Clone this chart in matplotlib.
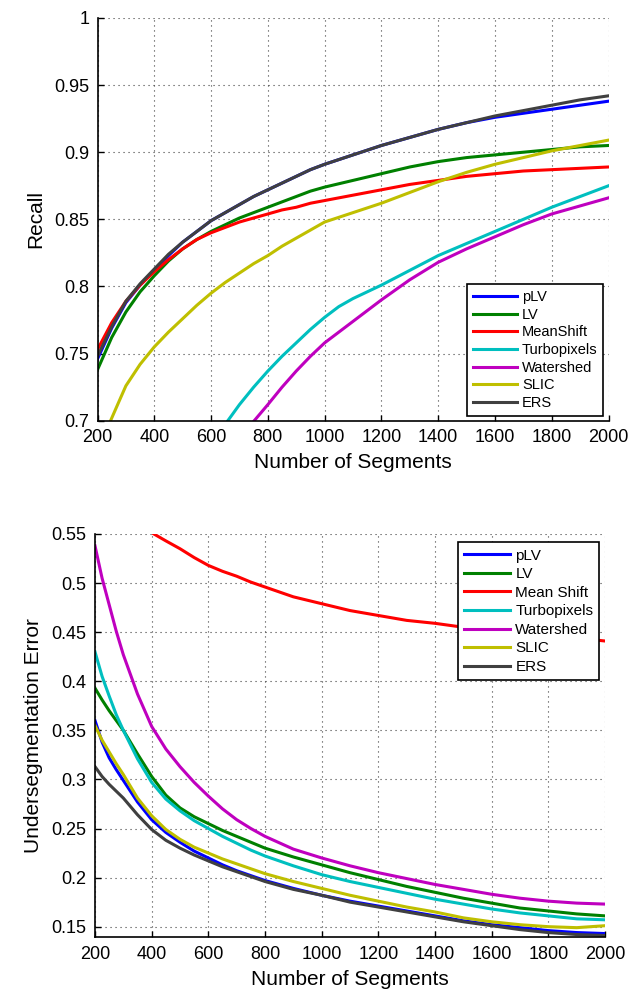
import matplotlib
matplotlib.use('Agg')
import matplotlib.pyplot as plt

plt.rcParams['font.family'] = ['Liberation Sans', 'DejaVu Sans']

# ---- recall vs number of segments (top) ----
rec_x = [200, 250, 300, 350, 400, 450, 500, 550, 600, 650, 700, 750, 800, 850, 900, 950,
         1000, 1100, 1200, 1300, 1400, 1500, 1600, 1700, 1800, 1900, 2000]
rec_plv = [0.746, 0.769, 0.788, 0.801, 0.812, 0.823, 0.833, 0.841, 0.849, 0.855, 0.861, 0.867, 0.872,
           0.877, 0.882, 0.887, 0.891, 0.898, 0.905, 0.911, 0.917, 0.922, 0.926, 0.929, 0.932, 0.935, 0.938]
rec_lv = [0.738, 0.762, 0.781, 0.796, 0.808, 0.819, 0.828, 0.835, 0.841, 0.846, 0.851, 0.855, 0.859,
          0.863, 0.867, 0.871, 0.874, 0.879, 0.884, 0.889, 0.893, 0.896, 0.898, 0.900, 0.902, 0.904, 0.905]
rec_ms = [0.753, 0.773, 0.789, 0.801, 0.811, 0.820, 0.828, 0.835, 0.840, 0.844, 0.848, 0.851, 0.854,
          0.857, 0.859, 0.862, 0.864, 0.868, 0.872, 0.876, 0.879, 0.882, 0.884, 0.886, 0.887, 0.888, 0.889]
rec_ers = [0.748, 0.770, 0.789, 0.802, 0.813, 0.824, 0.833, 0.841, 0.849, 0.855, 0.861, 0.867, 0.872,
           0.877, 0.882, 0.887, 0.891, 0.898, 0.905, 0.911, 0.917, 0.922, 0.927, 0.931, 0.935, 0.939, 0.942]

rec_slic_x = [246, 275, 300, 350, 400, 450, 500, 550, 600, 650, 700, 750, 800, 850, 900, 950, 1000,
              1100, 1200, 1300, 1400, 1500, 1600, 1700, 1800, 1900, 2000]
rec_slic = [0.700, 0.714, 0.726, 0.742, 0.755, 0.766, 0.776, 0.786, 0.795, 0.803, 0.810, 0.817, 0.823,
            0.830, 0.836, 0.842, 0.848, 0.855, 0.862, 0.870, 0.878, 0.885, 0.891, 0.896, 0.901, 0.905, 0.909]

rec_turbo_x = [659, 700, 750, 800, 850, 900, 950, 1000, 1050, 1100, 1200, 1300, 1400, 1500,
               1600, 1700, 1800, 1900, 2000]
rec_turbo = [0.700, 0.712, 0.725, 0.737, 0.748, 0.758, 0.768, 0.777, 0.785, 0.791, 0.801, 0.812,
             0.823, 0.832, 0.841, 0.850, 0.859, 0.867, 0.875]

rec_ws_x = [752, 800, 850, 900, 950, 1000, 1050, 1100, 1200, 1300, 1400, 1500, 1600, 1700,
            1800, 1900, 2000]
rec_ws = [0.700, 0.712, 0.725, 0.737, 0.748, 0.758, 0.766, 0.774, 0.790, 0.805, 0.818, 0.828,
          0.837, 0.846, 0.854, 0.860, 0.866]

# ---- undersegmentation error vs number of segments (bottom) ----
ue_x = [200, 225, 250, 275, 300, 350, 400, 450, 500, 550, 600, 650, 700, 750, 800, 900,
        1000, 1100, 1200, 1300, 1400, 1500, 1600, 1700, 1800, 1900, 2000]
ue_plv = [0.360, 0.338, 0.322, 0.310, 0.299, 0.277, 0.259, 0.246, 0.236, 0.227, 0.220, 0.213, 0.207,
          0.202, 0.197, 0.189, 0.182, 0.176, 0.171, 0.166, 0.161, 0.156, 0.152, 0.149, 0.146, 0.144, 0.143]
ue_lv = [0.393, 0.381, 0.370, 0.360, 0.350, 0.326, 0.303, 0.284, 0.271, 0.262, 0.255, 0.248, 0.242,
         0.236, 0.230, 0.221, 0.213, 0.205, 0.198, 0.191, 0.185, 0.179, 0.174, 0.169, 0.166, 0.163, 0.161]
ue_turbo = [0.430, 0.405, 0.385, 0.366, 0.350, 0.321, 0.297, 0.280, 0.268, 0.258, 0.250, 0.242, 0.235,
            0.228, 0.222, 0.212, 0.203, 0.196, 0.190, 0.184, 0.178, 0.173, 0.168, 0.164, 0.161, 0.158, 0.157]
ue_ws = [0.538, 0.505, 0.478, 0.451, 0.427, 0.387, 0.354, 0.331, 0.313, 0.297, 0.283, 0.270, 0.259,
         0.250, 0.242, 0.229, 0.220, 0.212, 0.205, 0.199, 0.193, 0.188, 0.183, 0.179, 0.176, 0.174, 0.173]
ue_slic = [0.355, 0.340, 0.328, 0.316, 0.305, 0.281, 0.263, 0.249, 0.239, 0.231, 0.225, 0.219, 0.214,
           0.209, 0.204, 0.196, 0.189, 0.182, 0.176, 0.170, 0.165, 0.159, 0.155, 0.152, 0.150, 0.149, 0.151]
ue_ers = [0.313, 0.303, 0.295, 0.288, 0.281, 0.264, 0.249, 0.238, 0.230, 0.223, 0.217, 0.211, 0.206,
          0.201, 0.196, 0.188, 0.182, 0.175, 0.170, 0.165, 0.160, 0.155, 0.151, 0.147, 0.144, 0.142, 0.141]

ue_ms_x = [408, 450, 500, 550, 600, 650, 700, 750, 800, 900, 1000, 1100, 1200, 1300, 1400,
           1500, 1600, 1700, 1800, 1900, 2000]
ue_ms = [0.550, 0.543, 0.535, 0.526, 0.518, 0.512, 0.507, 0.501, 0.496, 0.486, 0.479, 0.472, 0.467,
         0.462, 0.459, 0.455, 0.452, 0.449, 0.447, 0.444, 0.441]

names_top = ['pLV', 'LV', 'MeanShift', 'Turbopixels', 'Watershed', 'SLIC', 'ERS']
names_bottom = ['pLV', 'LV', 'Mean Shift', 'Turbopixels', 'Watershed', 'SLIC', 'ERS']
colors = ['#0000ff', '#008000', '#ff0000', '#00bfbf', '#bf00bf', '#bfbf00', '#404040']
xticks = [200, 400, 600, 800, 1000, 1200, 1400, 1600, 1800, 2000]


def style_axes(ax):
    ax.set_xlim(200, 2000)
    ax.set_xticks(xticks)
    ax.grid(True, color='0.25', linestyle=(0, (1, 3.5)), linewidth=0.8)
    ax.spines['top'].set_visible(False)
    ax.spines['right'].set_visible(False)
    ax.spines['left'].set_linewidth(1.2)
    ax.spines['bottom'].set_linewidth(1.2)
    ax.tick_params(direction='in', length=4, width=1, labelsize=13, pad=6)
    ax.set_xlabel('Number of Segments', fontsize=15, labelpad=5)


fig = plt.figure(figsize=(6.44, 9.97), dpi=100)

ax1 = fig.add_axes([0.1514, 0.578, 0.7935, 0.404])
top_series = [(rec_x, rec_plv), (rec_x, rec_lv), (rec_x, rec_ms),
              (rec_turbo_x, rec_turbo), (rec_ws_x, rec_ws),
              (rec_slic_x, rec_slic), (rec_x, rec_ers)]
for (xs, ys), name, c in zip(top_series, names_top, colors):
    ax1.plot(xs, ys, color=c, linewidth=2.2, label=name)
ax1.set_ylim(0.7, 1.0)
ax1.set_yticks([0.7, 0.75, 0.8, 0.85, 0.9, 0.95, 1.0])
ax1.set_yticklabels(['0.7', '0.75', '0.8', '0.85', '0.9', '0.95', '1'])
style_axes(ax1)
ax1.set_ylabel('Recall', fontsize=15, labelpad=6)
leg1 = ax1.legend(loc='lower right', bbox_to_anchor=(0.99, 0.012), borderaxespad=0,
                  fontsize=10.5, handlelength=3, handletextpad=0.35, labelspacing=0.25,
                  fancybox=False, framealpha=1, edgecolor='black', borderpad=0.4)
leg1.get_frame().set_linewidth(1.2)

ax2 = fig.add_axes([0.1475, 0.0599, 0.792, 0.4045])
bottom_series = [(ue_x, ue_plv), (ue_x, ue_lv), (ue_ms_x, ue_ms),
                 (ue_x, ue_turbo), (ue_x, ue_ws), (ue_x, ue_slic), (ue_x, ue_ers)]
for (xs, ys), name, c in zip(bottom_series, names_bottom, colors):
    ax2.plot(xs, ys, color=c, linewidth=2.2, label=name)
ax2.set_ylim(0.1392, 0.55)
ax2.set_yticks([0.15, 0.2, 0.25, 0.3, 0.35, 0.4, 0.45, 0.5, 0.55])
ax2.set_yticklabels(['0.15', '0.2', '0.25', '0.3', '0.35', '0.4', '0.45', '0.5', '0.55'])
style_axes(ax2)
ax2.set_ylabel('Undersegmentation Error', fontsize=15, labelpad=6)
leg2 = ax2.legend(loc='upper right', bbox_to_anchor=(0.989, 0.979), borderaxespad=0,
                  fontsize=11, handlelength=3, handletextpad=0.35, labelspacing=0.3,
                  fancybox=False, framealpha=1, edgecolor='black', borderpad=0.4)
leg2.get_frame().set_linewidth(1.2)

fig.savefig('out.png', dpi=100)
